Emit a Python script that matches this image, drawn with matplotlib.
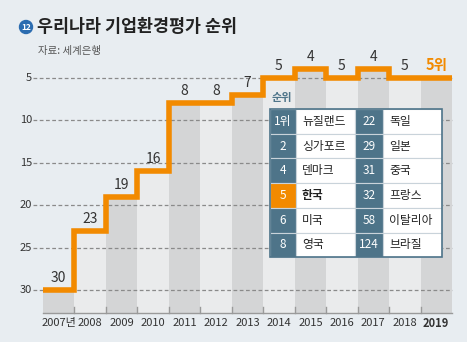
import matplotlib
matplotlib.use('Agg')
import matplotlib.pyplot as plt
from matplotlib.patches import Rectangle, Circle

plt.rcParams['font.family'] = ['Noto Sans CJK KR', 'DejaVu Sans']

# ranking by year
years = ['2007년', '2008', '2009', '2010', '2011', '2012', '2013',
         '2014', '2015', '2016', '2017', '2018', '2019']
ranks = [30, 23, 19, 16, 8, 8, 7, 5, 4, 5, 4, 5, 5]
yticks = [5, 10, 15, 20, 25, 30]

# 2019 table of countries
left_ranks = ['1위', '2', '4', '5', '6', '8']
left_names = ['뉴질랜드', '싱가포르', '덴마크', '한국', '미국', '영국']
right_ranks = ['22', '29', '31', '32', '58', '124']
right_names = ['독일', '일본', '중국', '프랑스', '이탈리아', '브라질']

W, H = 467, 342
BG = '#e8edf1'
ORANGE = '#f28a00'
SLATE = '#4e7489'
DARK = '#d4d5d6'
LIGHT = '#eaebec'
TEXT = '#333333'

fig = plt.figure(figsize=(W / 100, H / 100), dpi=100, facecolor=BG)


def px(x, y):
    # pixel position (from top-left) to figure fraction
    return x / W, 1 - y / H


y_low = 32.7
y_high = 2.3
ax = fig.add_axes([43 / W, 1 - 313 / H, (452 - 43) / W, (313 - 55) / H])
ax.set_facecolor('none')
ax.set_xlim(0, len(years))
ax.set_ylim(y_low, y_high)

# alternating columns from the line down to the baseline
for i, r in enumerate(ranks):
    ax.bar(i + 0.5, y_low - r, bottom=r, width=1.0,
           color=DARK if i % 2 == 0 else LIGHT, zorder=1)

# dashed grid
for v in yticks:
    ax.plot([-0.31, len(years)], [v, v], ls=(0, (3, 2)), lw=0.9,
            color='#8a8a8a', zorder=2, clip_on=False)
    ax.text(-0.34, v, str(v), ha='right', va='center', fontsize=8,
            color=TEXT)

# step line
xs = list(range(len(years) + 1))
ax.step(xs, ranks + [ranks[-1]], where='post', color=ORANGE, lw=4,
        solid_joinstyle='miter', zorder=4)

# value labels
for i, r in enumerate(ranks):
    if i == len(ranks) - 1:
        ax.text(i + 0.5, r - 0.6, f'{r}위', ha='center', va='bottom',
                fontsize=10.5, color=ORANGE, fontweight='bold', zorder=5)
    else:
        ax.text(i + 0.5, r - 0.6, str(r), ha='center', va='bottom',
                fontsize=10, color=TEXT, zorder=5)

# baseline and year labels
ax.plot([0, len(years)], [y_low, y_low], color='#9a9a9a', lw=1,
        clip_on=False, zorder=3)
for i in range(1, len(years)):
    ax.plot([i, i], [y_low, y_low - 0.7], color='#9a9a9a', lw=1,
            clip_on=False, zorder=3)
for i, yr in enumerate(years):
    ax.text(i + 0.5, y_low + 1.2, yr, ha='center', va='center',
            fontsize=8, color=TEXT,
            fontweight='bold' if i == len(years) - 1 else 'normal')

for s in ax.spines.values():
    s.set_visible(False)
ax.set_xticks([])
ax.set_yticks([])

# title
cx, cy = px(26, 27)
fig.add_artist(Circle((26, H - 27), 6.5, transform=None, color='#2b6cb0'))
fig.text(cx, cy, '12', ha='center', va='center', fontsize=6,
         color='white', fontweight='bold')
fig.text(*px(37, 27), '우리나라 기업환경평가 순위', ha='left', va='center',
         fontsize=12.5, fontweight='bold', color='#222222')
fig.text(*px(38, 51), '자료: 세계은행', ha='left', va='center',
         fontsize=7.5, color='#555555')

# table
tx0, ty0 = 270, 109
row_h = 24.7
cols = [(270, 296), (296, 355), (355, 383), (383, 442)]
fig.text(*px(272, 98), '순위', ha='left', va='center', fontsize=8,
         color=SLATE, fontweight='bold')


def cell(x0, x1, y0, color):
    fx0, fy1 = px(x0, y0)
    fx1, fy0 = px(x1, y0 + row_h)
    fig.add_artist(Rectangle((fx0, fy0), fx1 - fx0, fy1 - fy0,
                             transform=fig.transFigure, facecolor=color,
                             edgecolor='#c9d3da', lw=0.8, zorder=6))


for k in range(len(left_ranks)):
    y0 = ty0 + k * row_h
    korea = left_names[k] == '한국'
    cell(*cols[0], y0, ORANGE if korea else SLATE)
    cell(*cols[1], y0, 'white')
    cell(*cols[2], y0, SLATE)
    cell(*cols[3], y0, 'white')
    ym = y0 + row_h / 2
    fig.text(*px((cols[0][0] + cols[0][1]) / 2, ym), left_ranks[k],
             ha='center', va='center', fontsize=8.5, color='white', zorder=7)
    fig.text(*px(cols[1][0] + 6, ym), left_names[k], ha='left',
             va='center', fontsize=8.5, color='#222222', zorder=7,
             fontweight='bold' if korea else 'normal')
    fig.text(*px((cols[2][0] + cols[2][1]) / 2, ym), right_ranks[k],
             ha='center', va='center', fontsize=8.5, color='white', zorder=7)
    fig.text(*px(cols[3][0] + 6, ym), right_names[k], ha='left',
             va='center', fontsize=8.5, color='#222222', zorder=7)

# outer frame of the table
fx0, fy1 = px(tx0, ty0)
fx1, fy0 = px(442, ty0 + 6 * row_h)
fig.add_artist(Rectangle((fx0, fy0), fx1 - fx0, fy1 - fy0,
                         transform=fig.transFigure, fill=False,
                         edgecolor=SLATE, lw=1.2, zorder=8))

fig.savefig('out.png', dpi=100, facecolor=BG)
